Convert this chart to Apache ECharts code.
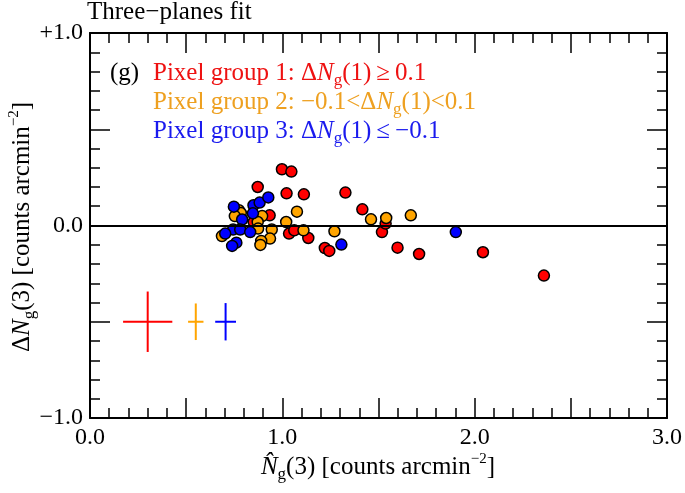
<!DOCTYPE html>
<html>
<head>
<meta charset="utf-8">
<script src="https://cdn.jsdelivr.net/npm/echarts@6.0.0/dist/echarts.min.js"></script>
<style>
  html, body { margin: 0; padding: 0; background: #fff; }
  #chart { width: 685px; height: 493px; }
</style>
</head>
<body>
<div id="chart"></div>
<script>
// pixel group 1 (red)
const redX = [0.998, 1.047, 0.872, 1.022, 1.112, 1.328, 1.416, 0.934, 0.851, 1.035, 1.062, 1.135, 1.221, 1.244, 1.518, 1.537, 1.599, 1.711, 2.043, 2.36];
const redY = [0.292, 0.280, 0.200, 0.167, 0.162, 0.171, 0.084, 0.053, 0.018, -0.042, -0.025, -0.065, -0.117, -0.132, -0.034, 0.010, -0.115, -0.148, -0.139, -0.26];
// pixel group 2 (orange)
const orangeX = [0.774, 0.784, 0.753, 0.895, 0.872, 0.874, 1.076, 1.020, 0.945, 1.110, 0.936, 0.890, 0.886, 1.271, 1.461, 1.540, 1.668, 0.686];
const orangeY = [0.079, 0.065, 0.049, 0.049, 0.018, -0.016, 0.072, 0.018, -0.021, -0.025, -0.068, -0.080, -0.101, -0.030, 0.032, 0.039, 0.053, -0.055];
// pixel group 3 (blue)
const blueX = [0.748, 0.850, 0.882, 0.927, 0.847, 0.791, 0.744, 0.781, 0.833, 0.703, 0.761, 0.739, 1.307, 1.902];
const blueY = [0.098, 0.105, 0.119, 0.146, 0.063, 0.031, -0.021, -0.021, -0.034, -0.042, -0.089, -0.106, -0.099, -0.034];

// typical error bars shown in the lower left
const errCenterX = [0.30, 0.55, 0.705];
const errCenterY = [-0.5, -0.5, -0.5];
const errHalfX = [0.128, 0.04, 0.054];
const errHalfY = [0.157, 0.095, 0.097];

const xTicks = [0, 1, 2, 3];
const yTickText = { '1': '+1.0', '0': '0.0', '-1': '\u22121.0' };

const colors = ['#ff0000', '#ffa500', '#0000ff'];
const textColors = ['#ee1111', '#eea020', '#1a1aee'];
const FONT = '"Liberation Serif", "DejaVu Serif", serif';

const chart = echarts.init(document.getElementById('chart'));

function zip(xs, ys) {
  return xs.map((x, i) => [x, ys[i]]);
}

function richFor(color) {
  return {
    t: { fontFamily: FONT, fontSize: 25, fill: color },
    i: { fontFamily: FONT, fontSize: 25, fontStyle: 'italic', fill: color },
    s: { fontFamily: FONT, fontSize: 17, fill: color, padding: [16, 0, 0, 0] },
    u: { fontFamily: FONT, fontSize: 15, fill: color, padding: [0, 0, 16, 0] }
  };
}

const axisCommon = {
  type: 'value',
  interval: 0.5,
  splitLine: { show: false },
  axisLine: { onZero: false, lineStyle: { color: '#000', width: 2 } },
  axisTick: { inside: true, length: 20, lineStyle: { color: '#000', width: 1.5 } },
  minorTick: { show: true, splitNumber: 5, length: 10, lineStyle: { color: '#000', width: 1.5 } }
};

function isWhole(v) {
  return Math.abs(v - Math.round(v)) < 1e-6;
}

const option = {
  animation: false,
  backgroundColor: '#fff',
  grid: { left: 90, right: 17, top: 33, bottom: 75 },
  xAxis: [
    Object.assign({}, axisCommon, {
      min: 0, max: 3, position: 'bottom',
      axisLabel: {
        fontFamily: FONT, fontSize: 24, color: '#000', margin: 8, hideOverlap: false,
        formatter: v => (isWhole(v) && xTicks.indexOf(Math.round(v)) >= 0) ? v.toFixed(1) : ''
      }
    }),
    Object.assign({}, axisCommon, { min: 0, max: 3, position: 'top', axisLabel: { show: false } })
  ],
  yAxis: [
    Object.assign({}, axisCommon, {
      min: -1, max: 1, position: 'left',
      axisLabel: {
        fontFamily: FONT, fontSize: 24, color: '#000', margin: 7, hideOverlap: false,
        formatter: v => isWhole(v) ? (yTickText[String(Math.round(v))] || '') : ''
      }
    }),
    Object.assign({}, axisCommon, { min: -1, max: 1, position: 'right', axisLabel: { show: false } })
  ],
  graphic: [
    {
      type: 'text', left: 87, top: 0,
      style: { text: 'Three\u2212planes fit', fontFamily: FONT, fontSize: 25, fill: '#000' }
    },
    {
      type: 'text', x: 110, y: 73,
      style: {
        text: '{t|(g) }', verticalAlign: 'middle', rich: richFor('#000')
      }
    },
    {
      type: 'text', x: 153, y: 73,
      style: {
        text: '{t|Pixel group 1: \u0394}{i|N}{s|g}{t|(1)\u2009\u2265\u20090.1}',
        verticalAlign: 'middle', rich: richFor(textColors[0])
      }
    },
    {
      type: 'text', x: 153, y: 102,
      style: {
        text: '{t|Pixel group 2: \u22120.1<\u0394}{i|N}{s|g}{t|(1)<0.1}',
        verticalAlign: 'middle', rich: richFor(textColors[1])
      }
    },
    {
      type: 'text', x: 153, y: 131,
      style: {
        text: '{t|Pixel group 3: \u0394}{i|N}{s|g}{t|(1)\u2009\u2264\u2009\u22120.1}',
        verticalAlign: 'middle', rich: richFor(textColors[2])
      }
    },
    {
      type: 'text', x: 378, y: 467,
      style: {
        text: '{i|N\u0302}{s|g}{t|(3) [counts arcmin}{u|\u22122}{t|]}',
        align: 'center', verticalAlign: 'middle', rich: richFor('#000')
      }
    },
    {
      type: 'text', x: 22, y: 227, rotation: Math.PI / 2,
      style: {
        text: '{t|\u0394}{i|N}{s|g}{t|(3) [counts arcmin}{u|\u22122}{t|]}',
        align: 'center', verticalAlign: 'middle', rich: richFor('#000')
      }
    }
  ],
  series: [
    {
      type: 'line',
      data: [],
      markLine: {
        silent: true, symbol: 'none', label: { show: false },
        lineStyle: { color: '#000', width: 2, type: 'solid' },
        data: [{ yAxis: 0 }]
      }
    },
    {
      type: 'custom',
      data: errCenterX.map((x, i) => [x, errCenterY[i], errHalfX[i], errHalfY[i]]),
      renderItem: function (params, api) {
        const x = api.value(0), y = api.value(1), ex = api.value(2), ey = api.value(3);
        const l = api.coord([x - ex, y]), r = api.coord([x + ex, y]);
        const t = api.coord([x, y + ey]), b = api.coord([x, y - ey]);
        const st = { stroke: colors[params.dataIndex], lineWidth: 2 };
        return {
          type: 'group',
          children: [
            { type: 'line', shape: { x1: l[0], y1: l[1], x2: r[0], y2: r[1] }, style: st },
            { type: 'line', shape: { x1: t[0], y1: t[1], x2: b[0], y2: b[1] }, style: st }
          ]
        };
      }
    },
    {
      name: 'group1', type: 'scatter', data: zip(redX, redY), symbolSize: 11,
      itemStyle: { color: colors[0], borderColor: '#000', borderWidth: 1.5, opacity: 1 }
    },
    {
      name: 'group2', type: 'scatter', data: zip(orangeX, orangeY), symbolSize: 11,
      itemStyle: { color: colors[1], borderColor: '#000', borderWidth: 1.5, opacity: 1 }
    },
    {
      name: 'group3', type: 'scatter', data: zip(blueX, blueY), symbolSize: 11,
      itemStyle: { color: colors[2], borderColor: '#000', borderWidth: 1.5, opacity: 1 }
    }
  ]
};

chart.setOption(option);
</script>
</body>
</html>
